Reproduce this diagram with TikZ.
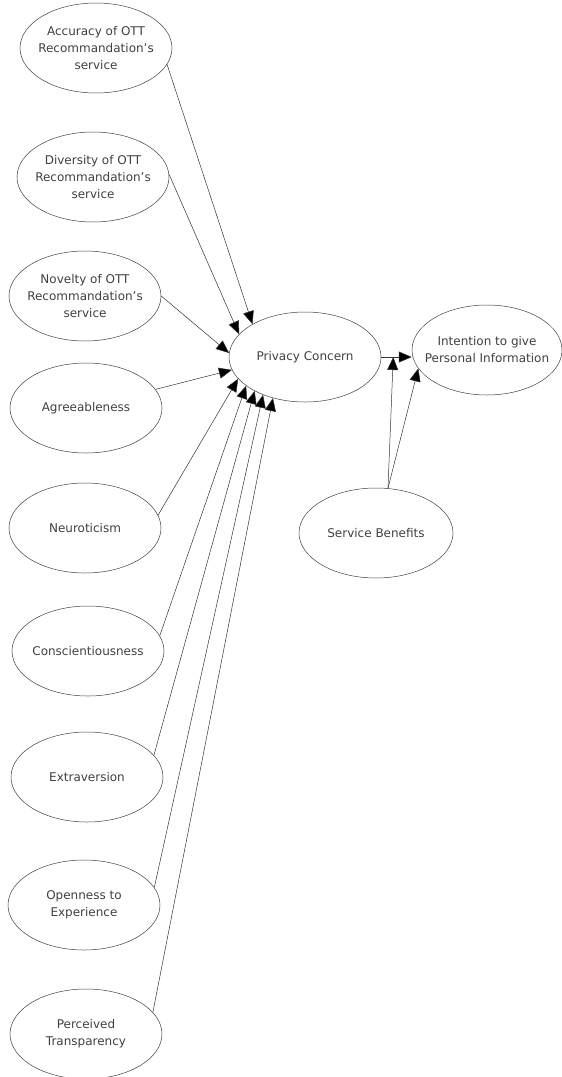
\documentclass[tikz,border=0pt]{standalone}
\usepackage{fontspec}
\setmainfont{DejaVu Sans}
\usetikzlibrary{shapes.geometric, arrows.meta}

\begin{document}
\begin{tikzpicture}[x=1pt, y=-1pt,
    construct/.style={ellipse, draw=black!75, line width=0.5pt, minimum width=152pt, minimum height=90pt, inner xsep=-25pt, inner ysep=-10pt, align=center, text=black!75, font=\fontsize{12}{17}\selectfont},
    path/.style={draw=black!80, line width=0.5pt, -{Triangle[length=13pt, width=11pt, fill=black]}}]

    \useasboundingbox (0,0) rectangle (562,1077);

    % exogenous constructs
    \node[construct] (acc) at (96,48) {Accuracy of OTT\\Recommandation's\\service};
    \node[construct] (div) at (93,177) {Diversity of OTT\\Recommandation's\\service};
    \node[construct] (nov) at (85,296) {Novelty of OTT\\Recommandation's\\service};
    \node[construct] (agr) at (86,408) {Agreeableness};
    \node[construct] (neu) at (85,528) {Neuroticism};
    \node[construct] (con) at (88,651) {Conscientiousness};
    \node[construct] (ext) at (87,777) {Extraversion};
    \node[construct] (opn) at (84,905) {Openness to\\Experience};
    \node[construct] (trp) at (86,1034) {Perceived\\Transparency};

    % mediator, outcome, moderator
    \node[construct] (pc) at (305,357) {Privacy Concern};
    \node[construct, minimum width=150pt] (ii) at (487,350) {Intention to give\\Personal Information};
    \node[construct, minimum width=154pt] (sb) at (376,533) {Service Benefits};
    \coordinate (mod) at ([xshift=12pt]pc.east);

    \draw[path] (acc.-13) -- (pc.148);
    \draw[path] (div.2) -- (pc.161);
    \draw[path] (nov.0) -- (pc.177);
    \draw[path] (agr.15) -- (pc.190);
    \draw[path] (neu.10) -- (pc.198);
    \draw[path] (con.12) -- (pc.206);
    \draw[path] (ext.18) -- (pc.214);
    \draw[path] (opn.14) -- (pc.222);
    \draw[path] (trp.18) -- (pc.232);

    \draw[path] (pc.east) -- (pc.east -| ii.west);
    \draw[path] (sb.75) -- (mod);
    \draw[path] (sb.75) -- (ii.195);
\end{tikzpicture}
\end{document}
